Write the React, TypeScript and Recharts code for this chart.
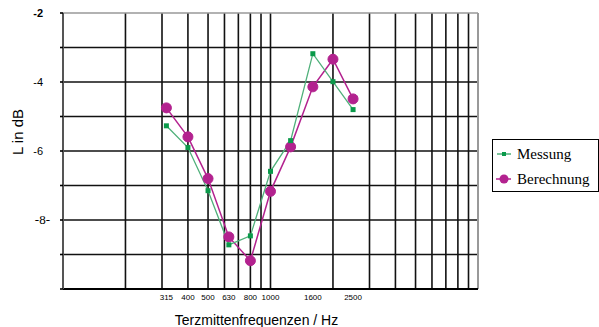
import React from 'react';
import { LineChart, Line, XAxis, YAxis, CartesianGrid, ReferenceLine, Legend } from 'recharts';

const frequencies = [315, 400, 500, 630, 800, 1000, 1250, 1600, 2000, 2500];
const messung = [-5.27, -5.9, -7.15, -8.72, -8.46, -6.59, -5.7, -3.18, -3.99, -4.8];
const berechnung = [-4.75, -5.59, -6.8, -8.49, -9.18, -7.17, -5.88, -4.14, -3.34, -4.49];
const xTickLabels = [315, 400, 500, 630, 800, 1000, 1600, 2500];
const yTicks = [-10, -9, -8, -7, -6, -5, -4, -3, -2];
const yLabelled = [-2, -4, -6, -8];
const gridFreqs = [200, 300, 400, 500, 600, 700, 800, 900, 1000, 2000, 3000, 4000, 5000, 6000, 7000, 8000, 9000];
const gridLevels = [-9, -8, -7, -6, -5, -4, -3];

const data = frequencies.map((f, i) => ({ f, messung: messung[i], berechnung: berechnung[i] }));

const GREEN = '#0a9a4a';
const GREEN_LINE = '#4fb07a';
const MAGENTA = '#b3228f';

const YTick = (props: any) => {
  const { x, y, payload } = props;
  const v = payload.value;
  if (!yLabelled.includes(v)) return null;
  if (v === -8) {
    return (
      <text x={x + 7} y={y} dy={4} textAnchor="end" fontFamily="Liberation Serif, Times New Roman, serif" fontSize={13} fill="#000">
        -8-
      </text>
    );
  }
  return (
    <text x={x} y={y} dy={4} textAnchor="end" fontFamily="Liberation Sans, Arial, sans-serif" fontSize={11} fontWeight={v === -2 ? 'bold' : 'normal'} fill="#000">
      {v}
    </text>
  );
};

const SquareDot = (props: any) => {
  const { cx, cy, index } = props;
  if (cx == null || cy == null) return null;
  return <rect key={`sq-${index}`} x={cx - 2.5} y={cy - 2.5} width={5} height={5} fill={GREEN} />;
};

const LegendContent = () => (
  <div
    style={{
      border: '1px solid #000',
      width: 107,
      height: 53,
      boxSizing: 'border-box',
      fontFamily: 'Liberation Serif, Times New Roman, serif',
      fontSize: 15,
      color: '#000',
      background: '#fff',
    }}
  >
    <div style={{ display: 'flex', alignItems: 'center', height: 16, marginTop: 6 }}>
      <svg width={24} height={16} style={{ display: 'block' }}>
        <line x1={4} y1={8} x2={18} y2={8} stroke={GREEN_LINE} strokeWidth={1.5} />
        <rect x={9} y={6} width={4} height={4} fill={GREEN} />
      </svg>
      <span style={{ lineHeight: '16px' }}>Messung</span>
    </div>
    <div style={{ display: 'flex', alignItems: 'center', height: 16, marginTop: 9 }}>
      <svg width={24} height={16} style={{ display: 'block' }}>
        <line x1={3} y1={8} x2={18} y2={8} stroke={MAGENTA} strokeWidth={1.5} />
        <circle cx={11} cy={8} r={4.5} fill={MAGENTA} />
      </svg>
      <span style={{ lineHeight: '16px' }}>Berechnung</span>
    </div>
  </div>
);

const YTitle = (props: any) => {
  const vb = props.viewBox || { x: 0, y: 13, width: 63, height: 276 };
  const cx = vb.x + 17;
  const cy = vb.y + vb.height / 2 - 19;
  return (
    <text
      x={cx}
      y={cy}
      transform={`rotate(-90 ${cx} ${cy})`}
      textAnchor="middle"
      dominantBaseline="central"
      fontFamily="Liberation Sans, Arial, sans-serif"
      fontSize={15}
      fill="#000"
    >
      L in dB
    </text>
  );
};

const XTitle = (props: any) => {
  const vb = props.viewBox || { x: 63, y: 289, width: 415, height: 38 };
  const cx = vb.x + vb.width / 2 - 14;
  const cy = vb.y + 31;
  return (
    <text x={cx} y={cy} textAnchor="middle" dominantBaseline="central" fontFamily="Liberation Sans, Arial, sans-serif" fontSize={14} fill="#000">
      Terzmittenfrequenzen / Hz
    </text>
  );
};

export default function App() {
  return (
    <div style={{ position: 'absolute', left: 0, top: 0, width: 599, height: 327, background: '#fff' }}>
      <LineChart width={599} height={327} data={data} margin={{ top: 13, right: 121, bottom: 0, left: 0 }}>
        <CartesianGrid
          stroke="#111"
          strokeWidth={1.6}
          verticalValues={gridFreqs}
          horizontalValues={gridLevels}
        />
        <XAxis
          dataKey="f"
          type="number"
          scale="log"
          domain={[100, 10000]}
          ticks={xTickLabels}
          allowDataOverflow
          height={38}
          tickLine={false}
          tickSize={0}
          tickMargin={5}
          axisLine={{ stroke: '#000', strokeWidth: 2 }}
          tick={{ fontSize: 8, fill: '#000', fontFamily: 'Liberation Sans, Arial, sans-serif' }}
          interval={0}
          label={<XTitle />}
        />
        <YAxis
          type="number"
          domain={[-10, -2]}
          ticks={yTicks}
          width={63}
          interval={0}
          allowDataOverflow
          tickSize={3}
          tickMargin={17}
          tickLine={{ stroke: '#000', strokeWidth: 1.6 }}
          axisLine={{ stroke: '#555', strokeWidth: 2 }}
          tick={<YTick />}
          label={<YTitle />}
        />
        <ReferenceLine y={-2} stroke="#999" strokeWidth={1.5} />
        <ReferenceLine x={10000} stroke="#999" strokeWidth={2} />
        <Line
          dataKey="berechnung"
          stroke={MAGENTA}
          strokeWidth={1.5}
          dot={{ r: 5, fill: MAGENTA, stroke: MAGENTA, strokeWidth: 1 }}
          isAnimationActive={false}
        />
        <Line
          dataKey="messung"
          stroke={GREEN_LINE}
          strokeWidth={1.3}
          dot={<SquareDot />}
          isAnimationActive={false}
        />
        <Legend
          layout="horizontal"
          verticalAlign="middle"
          align="center"
          content={<LegendContent />}
          wrapperStyle={{ position: 'absolute', left: 492, top: 139, width: 107, height: 53 }}
        />
      </LineChart>
    </div>
  );
}
